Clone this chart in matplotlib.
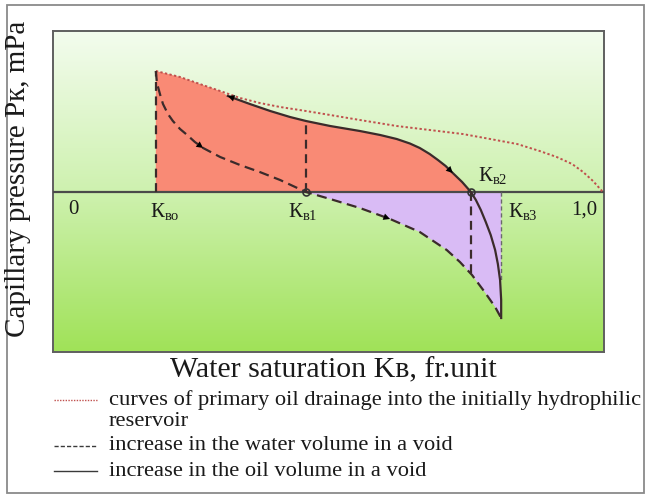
"""Capillary pressure hysteresis sketch: drainage / imbibition loops vs water saturation."""

import matplotlib
matplotlib.use("Agg")
import matplotlib.pyplot as plt
import numpy as np
from matplotlib.lines import Line2D
from matplotlib.patches import Rectangle

plt.rcParams["font.family"] = ["Liberation Serif", "DejaVu Serif"]
plt.rcParams["mathtext.fontset"] = "custom"
plt.rcParams["mathtext.rm"] = "Liberation Serif"
plt.rcParams["mathtext.it"] = "Liberation Serif:italic"

# characteristic saturations, fr.unit
K_VO, K_V1, K_V2, K_V3 = 0.187, 0.46, 0.76, 0.815
P_PEAK = 1.21        # capillary pressure at K_VO (arbitrary units)
P_V2_DROP = -0.82    # end of the dashed drop at K_V2

# primary drainage curve (dotted)
drain_s = [0.187, 0.231, 0.267, 0.304, 0.340, 0.376, 0.413, 0.460, 0.504, 0.558, 0.625,
           0.685, 0.745, 0.795, 0.844, 0.885, 0.916, 0.944, 0.964, 0.982, 1.0]
drain_p = [1.21, 1.15, 1.08, 1.01, 0.94, 0.89, 0.85, 0.81, 0.77, 0.72, 0.66,
           0.62, 0.58, 0.53, 0.48, 0.41, 0.35, 0.28, 0.20, 0.11, 0.0]

# increase in the oil volume (solid)
oil_s = [0.318, 0.358, 0.395, 0.431, 0.460, 0.504, 0.558, 0.595, 0.625, 0.649, 0.667,
         0.685, 0.700, 0.714, 0.727, 0.744, 0.760, 0.769, 0.778, 0.787, 0.796, 0.804,
         0.809, 0.813, 0.815, 0.815]
oil_p = [0.96, 0.88, 0.81, 0.75, 0.71, 0.66, 0.61, 0.57, 0.53, 0.485, 0.44,
         0.38, 0.32, 0.26, 0.19, 0.10, 0.0, -0.08, -0.18, -0.30, -0.43, -0.58,
         -0.72, -0.88, -1.08, -1.26]

# increase in the water volume (dashed)
water_s = [0.187, 0.189, 0.195, 0.200, 0.209, 0.218, 0.231, 0.244, 0.258, 0.273, 0.304,
           0.340, 0.376, 0.413, 0.460, 0.504, 0.558, 0.613, 0.667, 0.716, 0.740, 0.762,
           0.785, 0.804, 0.815]
water_p = [1.21, 1.09, 0.97, 0.88, 0.78, 0.71, 0.63, 0.57, 0.50, 0.44, 0.35,
           0.27, 0.20, 0.12, 0.0, -0.07, -0.16, -0.27, -0.40, -0.58, -0.70, -0.83,
           -1.00, -1.15, -1.26]

W, H = 647, 497
fig = plt.figure(figsize=(W / 100, H / 100), dpi=100)

# outer frame
fig.patches.append(Rectangle((7 / W, 1 - 493 / H), 637 / W, 488 / H, transform=fig.transFigure,
                             fill=False, edgecolor="#8a8a8a", lw=1.3))

ax = fig.add_axes([53 / W, 1 - 352 / H, 551 / W, 321 / H])
ax.set_xlim(0, 1.002)
ax.set_ylim(-1.60, 1.61)
ax.set_xticks([])
ax.set_yticks([])
for sp in ax.spines.values():
    sp.set_color("#5f5f5f")
    sp.set_linewidth(1.4)

# green vertical gradient background
top = np.array([243, 252, 238]) / 255
mid = np.array([206, 241, 175]) / 255
bot = np.array([160, 226, 88]) / 255
t = np.linspace(0, 1, 200)[:, None]
grad = np.where(t < 0.5, top + (mid - top) * (t / 0.5), mid + (bot - mid) * ((t - 0.5) / 0.5))
ax.imshow(grad[:, None, :], extent=(0, 1.002, -1.60, 1.61), aspect="auto", zorder=0)

RED = "#f98a75"
PURPLE = "#d9bbf5"
DARK = "#3b2b2b"

# red area: under drainage curve up to where the oil curve starts, then under the oil curve
red_s = [s for s in drain_s if s < oil_s[0]] + [s for s, p in zip(oil_s, oil_p) if p >= 0] + [K_VO]
red_p = [p for s, p in zip(drain_s, drain_p) if s < oil_s[0]] + [p for p in oil_p if p >= 0] + [0.0]
ax.fill(red_s, red_p, color=RED, lw=0, zorder=1)

# purple area: between zero line and the dashed curve, K_V1 .. K_V3
pur_s = [s for s, p in zip(water_s, water_p) if p <= 0] + [K_V3]
pur_p = [p for p in water_p if p <= 0] + [0.0]
ax.fill(pur_s, pur_p, color=PURPLE, lw=0, zorder=1)

# zero line
ax.plot([0, 1.002], [0, 0], color="#4a4a4a", lw=1.6, zorder=3)

# verticals
dash = (0, (4, 2.5))
ax.plot([K_VO, K_VO], [0, P_PEAK], color=DARK, lw=1.6, ls=dash, zorder=3)
ax.plot([K_V1, K_V1], [0, oil_p[4]], color=DARK, lw=1.6, ls=dash, zorder=3)
ax.plot([K_V2, K_V2], [0, P_V2_DROP], color=DARK, lw=1.6, ls=dash, zorder=3)
ax.plot([K_V3, K_V3], [0, -0.9], color="#6a6a6a", lw=1.0, ls=(0, (3, 2)), zorder=3)

# curves
ax.plot(drain_s, drain_p, color="#c0504d", lw=1.4, ls=(0, (1.2, 1.2)), zorder=4)
ax.plot(oil_s, oil_p, color=DARK, lw=1.6, zorder=4)
ax.plot(water_s, water_p, color=DARK, lw=1.6, ls=(0, (4.5, 2.5)), zorder=4)

# direction arrows along the curves (tail index -> head index)
for xs, ys, i, j in [(oil_s, oil_p, 1, 0), (oil_s, oil_p, 13, 14),
                     (water_s, water_p, 8, 9), (water_s, water_p, 16, 17)]:
    ax.annotate("", xy=(xs[j], ys[j]), xytext=(xs[i], ys[i]),
                arrowprops=dict(arrowstyle="-|>", color="black", lw=0,
                                mutation_scale=12, shrinkA=0, shrinkB=0), zorder=5)

# intersection markers
ax.plot([K_V1, K_V2], [0, 0], ls="none", marker="o", ms=5, mfc="none", mec="#333333", mew=1.2, zorder=6)

# labels along the axis
lab = dict(fontsize=15, color="#1a1a1a", va="center", zorder=6)
ax.text(0.038, -0.18, "0", ha="center", **lab)
ax.text(0.176, -0.19, r"К$_{\mathrm{во}}$", ha="left", **lab)
ax.text(0.428, -0.19, r"К$_{\mathrm{в1}}$", ha="left", **lab)
ax.text(0.772, 0.16, r"К$_{\mathrm{в2}}$", ha="left", **lab)
ax.text(0.828, -0.19, r"К$_{\mathrm{в3}}$", ha="left", **lab)
ax.text(0.99, -0.18, "1,0", ha="right", **lab)

fig.text(18 / W, 1 - 179 / H, "Capillary pressure Pк, mPa", rotation=90,
         ha="center", va="center", fontsize=21, color="#1a1a1a")
fig.text(333 / W, 1 - 370 / H, "Water saturation Kв, fr.unit",
         ha="center", va="center", fontsize=21.5, color="#1a1a1a")

# hand-made legend
rows = [
    (400, "curves of primary oil drainage into the initially hydrophilic",
     dict(color="#c0504d", lw=1.0, ls=(0, (1, 1)))),
    (421, "reservoir", None),
    (446, "increase in the water volume in a void", dict(color="#3a3a3a", lw=1.0, ls=(0, (3, 1.5)))),
    (471, "increase in the oil volume in a void", dict(color="#3a3a3a", lw=1.0)),
]
for y, txt, style in rows:
    yf = 1 - y / H
    if style is not None:
        fig.add_artist(Line2D([54 / W, 97 / W], [yf, yf], transform=fig.transFigure, **style))
    fig.text(109 / W, yf, txt, ha="left", va="center", fontsize=16.2, color="#1a1a1a")

fig.savefig("out.png", dpi=100)
